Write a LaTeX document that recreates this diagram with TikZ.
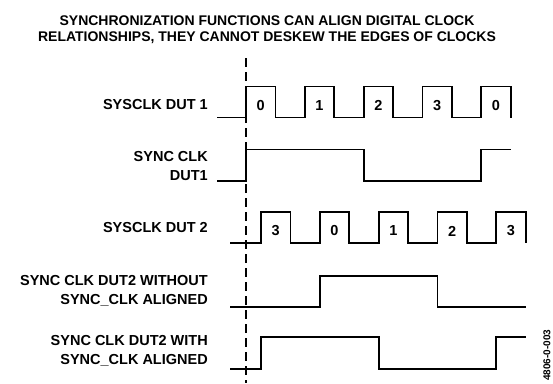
\documentclass[tikz,border=0pt]{standalone}
\usepackage{fontspec}
\setmainfont{Liberation Sans}
\usepackage{tikz}
\usetikzlibrary{positioning, calc}
\tikzset{
  sig/.style={draw=black, line width=1.8pt, line join=miter},
  sync/.style={draw=black, line width=1.2pt, dash pattern=on 9pt off 5pt},
  rowlabel/.style={anchor=east, align=right, inner sep=0pt,
    font=\fontsize{14.5}{18.5}\selectfont\bfseries},
  digit/.style={inner sep=0pt, font=\fontsize{14.5}{15}\selectfont\bfseries},
  heading/.style={align=center, inner sep=0pt,
    font=\fontsize{14}{16}\selectfont\bfseries}
}

\begin{document}
\begin{tikzpicture}[x=1pt, y=-1pt]
  \useasboundingbox (0,0) rectangle (553,383);

  % Title
  \node[heading] (title) at (267,29.5) {SYNCHRONIZATION FUNCTIONS CAN ALIGN DIGITAL CLOCK\\RELATIONSHIPS, THEY CANNOT DESKEW THE EDGES OF CLOCKS};

  % Reference edge
  \coordinate (reftop) at (246,58);
  \coordinate (refbot) at (246,383);
  \draw[sync] (reftop) -- (refbot);

  % Row labels
  \node[rowlabel] (l1) at (208,105) {SYSCLK DUT 1};
  \node[rowlabel] (l2) at (208,166) {SYNC CLK\\DUT1};
  \node[rowlabel] (l3) at (208,228) {SYSCLK DUT 2};
  \node[rowlabel] (l4) at (208,291) {SYNC CLK DUT2 WITHOUT\\SYNC\_CLK ALIGNED};
  \node[rowlabel] (l5) at (208,351) {SYNC CLK DUT2 WITH\\SYNC\_CLK ALIGNED};

  % SYSCLK DUT 1
  \draw[sig] (217,117.5) foreach \k in {0,...,4} {
    -- (246+58.8*\k,117.5) -- (246+58.8*\k,86.5)
    -- (275.4+58.8*\k,86.5) -- (275.4+58.8*\k,117.5) };
  \foreach \d [count=\k from 0] in {0,1,2,3,0}
    \node[digit] (a\k) at (260.7+58.8*\k,105.5) {\d};

  % SYNC CLK DUT1
  \draw[sig] (217,181) -- (246,181) -- (246,149.5) -- (363.6,149.5)
    -- (363.6,181) -- (481.2,181) -- (481.2,149.5) -- (510.6,149.5);

  % SYSCLK DUT 2
  \draw[sig] (230,243.3) foreach \k in {0,...,4} {
    -- (261+58.8*\k,243.3) -- (261+58.8*\k,212.3)
    -- (290.4+58.8*\k,212.3) -- (290.4+58.8*\k,243.3) };
  \foreach \d [count=\k from 0] in {3,0,1,2,3}
    \node[digit] (b\k) at (275.7+58.8*\k,231) {\d};

  % SYNC CLK DUT2 without alignment
  \draw[sig] (230,306.7) -- (319.8,306.7) -- (319.8,275.7) -- (437.4,275.7)
    -- (437.4,306.7) -- (525.6,306.7);

  % SYNC CLK DUT2 with alignment
  \draw[sig] (230,369) -- (261,369) -- (261,337.3) -- (378.6,337.3)
    -- (378.6,369) -- (496.2,369) -- (496.2,337.3) -- (525.6,337.3);

  % Figure number
  \node[rotate=90, anchor=west, inner sep=0pt,
    font=\fontsize{10}{11}\selectfont\bfseries] (fig) at (547,381) {4806-0-003};
\end{tikzpicture}
\end{document}
